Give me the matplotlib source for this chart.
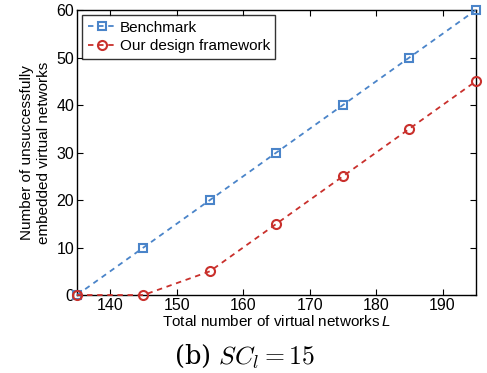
import matplotlib
matplotlib.use("Agg")
import matplotlib.pyplot as plt

L = [135, 145, 155, 165, 175, 185, 195]
benchmark = [0, 10, 20, 30, 40, 50, 60]
ours = [0, 0, 5, 15, 25, 35, 45]

plt.rcParams["font.family"] = ["Liberation Sans", "DejaVu Sans"]
plt.rcParams["mathtext.fontset"] = "custom"
plt.rcParams["mathtext.it"] = "Liberation Sans:italic"
plt.rcParams["mathtext.rm"] = "Liberation Sans"

fig = plt.figure(figsize=(4.87, 3.73), dpi=100)
ax = fig.add_axes([0.158, 0.209, 0.819, 0.764])

blue = "#4a84c9"
red = "#c9302c"
ax.plot(L, benchmark, ls=(0, (3, 2.6)), color=blue, lw=1.3, marker="s", ms=6,
        mfc="none", mew=1.5, clip_on=False, zorder=3, label="Benchmark")
ax.plot(L, ours, ls=(0, (3, 2.6)), color=red, lw=1.3, marker="o", ms=6.5,
        mfc="none", mew=1.5, clip_on=False, zorder=3, label="Our design framework")

ax.set_xlim(135, 195)
ax.set_ylim(0, 60)
ax.set_xticks([140, 150, 160, 170, 180, 190])
ax.set_yticks([0, 10, 20, 30, 40, 50, 60])
ax.tick_params(direction="in", top=True, right=True, labelsize=11.5, length=4,
               pad=2)
for s in ax.spines.values():
    s.set_linewidth(1.0)

ax.set_xlabel("Total number of virtual networks$\\,L$", fontsize=11, labelpad=1)
ax.set_ylabel("Number of unsuccessfully\nembedded virtual networks",
              fontsize=11, labelpad=4, linespacing=1.25)

leg = ax.legend(loc="upper left", fontsize=11, frameon=True, fancybox=False,
                edgecolor="black", handlelength=1.9, handletextpad=0.2,
                borderpad=0.35, labelspacing=0.3, borderaxespad=0.35)
leg.get_frame().set_linewidth(1.0)

fig.text(0.502, 0.045, "(b) $SC_l = 15$", ha="center", va="center",
         fontsize=18.5, family="serif", math_fontfamily="cm")

fig.savefig("out.png", dpi=100)
